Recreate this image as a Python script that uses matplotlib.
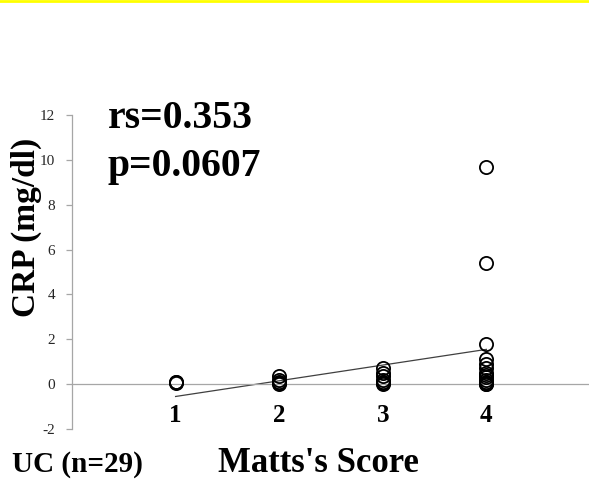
import matplotlib
matplotlib.use("Agg")
import matplotlib.pyplot as plt
from matplotlib.lines import Line2D

# ---- data ----
categories = [1, 2, 3, 4]
category_labels = ["1", "2", "3", "4"]
crp_score1 = [0.10, 0.05, 0.08]
crp_score2 = [0.35, 0.20, 0.10, 0.05, 0.00]
crp_score3 = [0.70, 0.50, 0.35, 0.20, 0.10, 0.05, 0.00]
crp_score4 = [9.70, 5.40, 1.78, 1.10, 0.90, 0.70, 0.50, 0.40, 0.30, 0.20, 0.10, 0.05, 0.00, 0.00]
trend_x = [1, 4]
trend_y = [-0.55, 1.55]
yticks = [-2, 0, 2, 4, 6, 8, 10, 12]

plt.rcParams['font.family'] = ['Liberation Serif', 'DejaVu Serif']

fig = plt.figure(figsize=(5.89, 4.84), dpi=100)
# yellow rule at the very top
fig.add_artist(Line2D([0, 1], [0.998, 0.998], color='#FFFF00', lw=2.0, transform=fig.transFigure))

ax = fig.add_axes([72/589, 1-429/484, 518/589, (429-115)/484])
ax.set_xlim(0, 5)
ax.set_ylim(-2, 12)

groups = [crp_score1, crp_score2, crp_score3, crp_score4]
for c, vals in zip(categories, groups):
    ax.plot([c]*len(vals), vals, linestyle='none', marker='o', markersize=9.5,
            markerfacecolor='none', markeredgecolor='black', markeredgewidth=1.3, zorder=3)

ax.plot(trend_x, trend_y, color='#404040', lw=0.9, zorder=2)

for s in ['top', 'right']:
    ax.spines[s].set_visible(False)
ax.spines['left'].set_color('#A6A6A6')
ax.spines['left'].set_linewidth(0.9)
ax.spines['bottom'].set_position(('data', 0))
ax.spines['bottom'].set_color('#A6A6A6')
ax.spines['bottom'].set_linewidth(0.9)

ax.set_yticks(yticks)
ax.set_yticklabels([str(v) for v in yticks], fontsize=11, color='#262626')
ax.tick_params(axis='y', direction='out', length=4, color='#A6A6A6', width=0.9, pad=8)
ax.set_xticks(categories)
ax.set_xticklabels(category_labels, fontsize=18, fontweight='bold')
ax.tick_params(axis='x', length=0, pad=14)

fig.text(26/589, 1-227/484, 'CRP (mg/dl)', fontsize=24, fontweight='bold',
         rotation=90, va='center', ha='center')

fig.text(108/589, 1-118/484, 'rs=0.353', fontsize=28.5, fontweight='bold', va='center', ha='left')
fig.text(108/589, 1-166/484, 'p=0.0607', fontsize=28.5, fontweight='bold', va='center', ha='left')
fig.text(12/589, 1-464/484, 'UC (n=29)', fontsize=21, fontweight='bold', va='center', ha='left')
fig.text(318/589, 1-464/484, "Matts's Score", fontsize=25, fontweight='bold', va='center', ha='center')

fig.savefig('out.png', dpi=100)
